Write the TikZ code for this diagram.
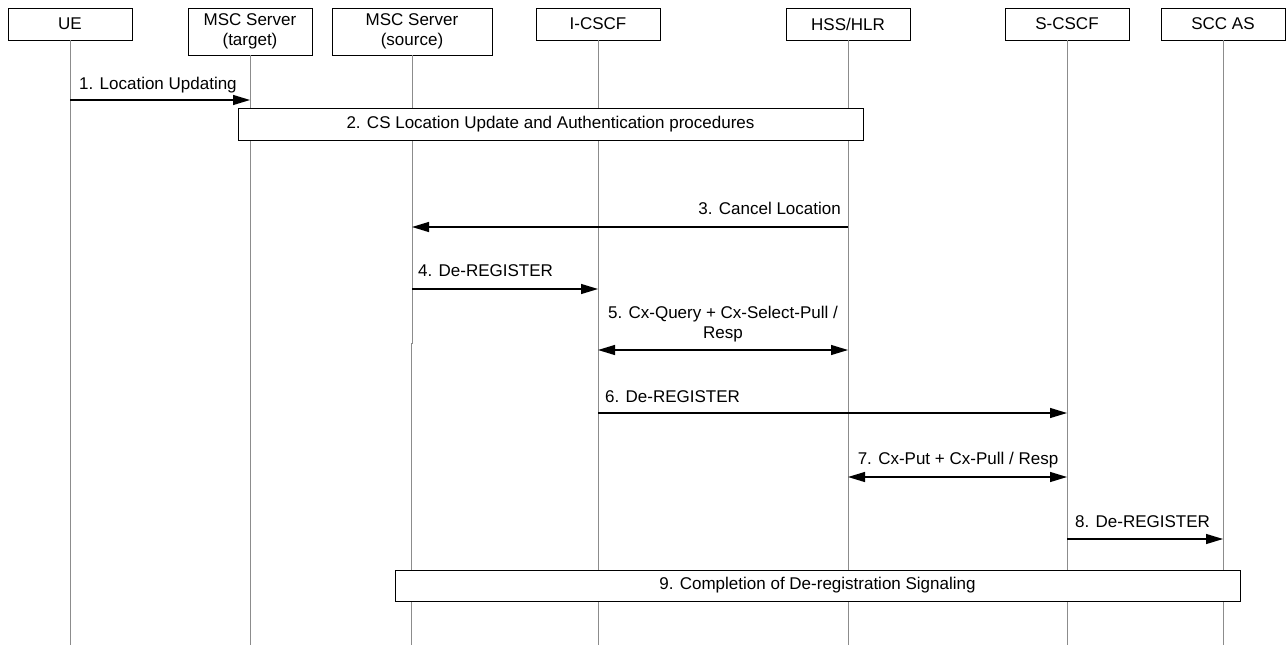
\documentclass[tikz,border=0pt]{standalone}
\usepackage{fontspec}
\setmainfont{Liberation Sans}
\usetikzlibrary{arrows.meta}
\begin{document}
\begin{tikzpicture}[x=1pt,y=-1pt,
  hdr/.style={draw=black,line width=0.9pt,minimum width=124pt,minimum height=32pt,align=center,inner sep=0pt,font=\fontsize{17}{19.5}\selectfont},
  life/.style={draw=black!45,line width=0.9pt},
  msg/.style={draw=black,line width=1.2pt,-{Triangle[length=17pt,width=10pt]}},
  bmsg/.style={draw=black,line width=1.2pt,{Triangle[length=17pt,width=10pt]}-{Triangle[length=17pt,width=10pt]}},
  lbl/.style={font=\fontsize{17}{20}\selectfont,inner sep=0pt},
  procbox/.style={draw=black,line width=0.9pt,fill=white,inner sep=0pt}]
\useasboundingbox (0,0) rectangle (1287,645);
% headers
\node[hdr] (ue) at (70,24) {UE};
\node[hdr,minimum height=47pt] (mt) at (250,31.5) {MSC Server\\(target)};
\node[hdr,minimum height=47pt,minimum width=160pt] (ms) at (412,31.5) {MSC Server\\(source)};
\node[hdr] (ic) at (598,24) {I-CSCF};
\node[hdr] (hss) at (848,24) {HSS/HLR};
\node[hdr] (sc) at (1067,24) {S-CSCF};
\node[hdr] (scc) at (1223,24) {SCC AS};
% lifeline ends
\coordinate (ueE) at (70,645);
\coordinate (mtE) at (250,645);
\coordinate (msJ1) at (412,343);
\coordinate (msJ2) at (411,343);
\coordinate (msE) at (411,645);
\coordinate (icE) at (598,645);
\coordinate (hssE) at (848,645);
\coordinate (scE) at (1067,645);
\coordinate (sccE) at (1223,645);
\draw[life] (ue.south) -- (ueE);
\draw[life] (mt.south) -- (mtE);
\draw[life] (ms.south) -- (msJ1) -- (msJ2) -- (msE);
\draw[life] (ic.south) -- (icE);
\draw[life] (hss.south) -- (hssE);
\draw[life] (sc.south) -- (scE);
\draw[life] (scc.south) -- (sccE);
% message anchors
\coordinate (a1) at (70,100); \coordinate (b1) at (250,100);
\coordinate (a3) at (848,227); \coordinate (b3) at (412,227);
\coordinate (a4) at (412,289); \coordinate (b4) at (598,289);
\coordinate (a5) at (598,350); \coordinate (b5) at (848,350);
\coordinate (a6) at (598,413); \coordinate (b6) at (1067,413);
\coordinate (a7) at (848,477); \coordinate (b7) at (1067,477);
\coordinate (a8) at (1067,539); \coordinate (b8) at (1223,539);
% 1
\draw[msg] (a1) -- (b1);
\node[lbl,anchor=base west] (l1) at (79,89) {1. Location Updating};
% 2
\node[procbox,minimum width=625pt,minimum height=32pt] (p2) at (550.5,124) {};
\node[lbl] (l2) at (p2.center) {2. CS Location Update and Authentication procedures};
% 3
\draw[msg] (a3) -- (b3);
\node[lbl,anchor=base east] (l3) at (841,214) {3. Cancel Location};
% 4
\draw[msg] (a4) -- (b4);
\node[lbl,anchor=base west] (l4) at (418,276) {4. De-REGISTER};
% 5
\draw[bmsg] (a5) -- (b5);
\node[lbl,anchor=base] (l5a) at (723,318) {5. Cx-Query + Cx-Select-Pull /};
\node[lbl,anchor=base] (l5b) at (723,338) {Resp};
% 6
\draw[msg] (a6) -- (b6);
\node[lbl,anchor=base west] (l6) at (605,402) {6. De-REGISTER};
% 7
\draw[bmsg] (a7) -- (b7);
\node[lbl,anchor=base] (l7) at (958,464) {7. Cx-Put + Cx-Pull / Resp};
% 8
\draw[msg] (a8) -- (b8);
\node[lbl,anchor=base west] (l8) at (1075,527) {8. De-REGISTER};
% 9
\node[procbox,minimum width=845pt,minimum height=31pt] (p9) at (817.5,585.5) {};
\node[lbl] (l9) at (p9.center) {9. Completion of De-registration Signaling};
\end{tikzpicture}
\end{document}
